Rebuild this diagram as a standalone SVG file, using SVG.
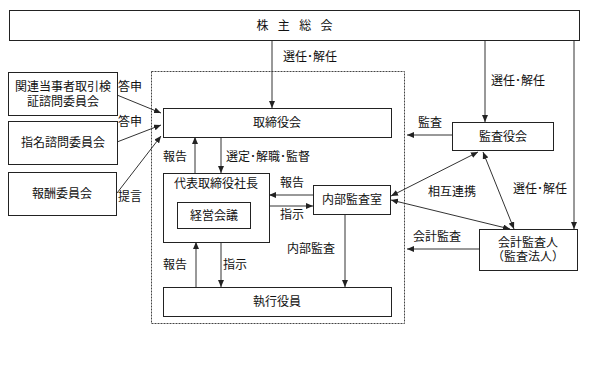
<svg xmlns="http://www.w3.org/2000/svg" width="600" height="366" viewBox="0 0 600 366">
<defs>
<marker id="ah" markerUnits="userSpaceOnUse" markerWidth="7" markerHeight="6" refX="7" refY="3" orient="auto-start-reverse">
<path d="M0,0 L7,3 L0,6 z" fill="#222"/>
</marker>
<style>
.box{fill:#fff;stroke:#222;stroke-width:1}
.t{font-family:"Liberation Sans","Noto Sans CJK JP",sans-serif;font-size:12px;fill:#111;text-anchor:middle}
.l{font-family:"Liberation Sans","Noto Sans CJK JP",sans-serif;font-size:12px;fill:#111}
.c{stroke:#333;stroke-width:1;fill:none}
.a{marker-end:url(#ah)}
.d{marker-start:url(#ah);marker-end:url(#ah)}
</style>
</defs>
<rect width="600" height="366" fill="#fff"/>
<rect x="151.5" y="71.5" width="253" height="252" fill="none" stroke="#444" stroke-width="1" stroke-dasharray="2,1"/>
<g id="connectors">
<line class="c a" x1="272" y1="40" x2="272" y2="108"/>
<line class="c a" x1="485" y1="40" x2="485" y2="122"/>
<polyline class="c a" points="574,40 574,229"/>
<line class="c a" x1="117" y1="95" x2="161" y2="113"/>
<line class="c a" x1="117" y1="142" x2="161" y2="125"/>
<line class="c a" x1="117" y1="193" x2="161" y2="136"/>
<line class="c a" x1="195" y1="173" x2="195" y2="137"/>
<line class="c a" x1="221" y1="137" x2="221" y2="173"/>
<line class="c a" x1="313" y1="195" x2="269" y2="195"/>
<line class="c a" x1="269" y1="206" x2="313" y2="206"/>
<line class="c a" x1="196" y1="287" x2="196" y2="242"/>
<line class="c a" x1="221" y1="242" x2="221" y2="287"/>
<line class="c a" x1="345" y1="214" x2="345" y2="287"/>
<line class="c a" x1="452" y1="135" x2="407" y2="135"/>
<line class="c a" x1="479" y1="249" x2="407" y2="249"/>
<line class="c d" x1="478" y1="152" x2="391" y2="196"/>
<line class="c d" x1="391" y1="200" x2="510" y2="229"/>
<line class="c d" x1="483" y1="152" x2="514" y2="229"/>
</g>
<g id="kabunushi"><rect class="box" x="9.5" y="10.5" width="570" height="30"/><text class="t" x="296" y="30" letter-spacing="3">株 主 総 会</text></g>
<g id="kanren"><rect class="box" x="8.5" y="72.5" width="109" height="43"/><text class="t" x="63" y="91">関連当事者取引検</text><text class="t" x="63" y="106">証諮問委員会</text></g>
<g id="shimei"><rect class="box" x="8.5" y="121.5" width="109" height="43"/><text class="t" x="63" y="147">指名諮問委員会</text></g>
<g id="houshu"><rect class="box" x="8.5" y="172.5" width="108" height="43"/><text class="t" x="62" y="198">報酬委員会</text></g>
<g id="torishimariyakukai"><rect class="box" x="163.5" y="108.5" width="228" height="29"/><text class="t" x="277" y="127">取締役会</text></g>
<g id="daihyo"><rect class="box" x="163.5" y="173.5" width="106" height="69"/><text class="t" x="216" y="188">代表取締役社長</text></g>
<g id="keiei"><rect class="box" x="177.5" y="202.5" width="73" height="26"/><text class="t" x="214" y="220">経営会議</text></g>
<g id="naibu"><rect class="box" x="313.5" y="185.5" width="77" height="29"/><text class="t" x="352" y="204">内部監査室</text></g>
<g id="shikko"><rect class="box" x="163.5" y="287.5" width="228" height="29"/><text class="t" x="277" y="306">執行役員</text></g>
<g id="kansayakukai"><rect class="box" x="452.5" y="122.5" width="101" height="28"/><text class="t" x="503" y="141">監査役会</text></g>
<g id="kaikei"><rect class="box" x="479.5" y="229.5" width="98" height="41"/><text class="t" x="528" y="247">会計監査人</text><text class="t" x="528" y="261">（監査法人）</text></g>
<g id="labels">
<text class="l" x="283" y="61">選任･解任</text>
<text class="l" x="491" y="85">選任･解任</text>
<text class="l" x="118" y="91">答申</text>
<text class="l" x="118" y="126">答申</text>
<text class="l" x="118" y="201">提言</text>
<text class="l" x="163" y="161">報告</text>
<text class="l" x="226" y="161">選定･解職･監督</text>
<text class="l" x="280" y="187">報告</text>
<text class="l" x="280" y="219">指示</text>
<text class="l" x="163" y="269">報告</text>
<text class="l" x="223" y="269">指示</text>
<text class="l" x="287" y="253">内部監査</text>
<text class="l" x="418" y="127">監査</text>
<text class="l" x="428" y="196">相互連携</text>
<text class="l" x="513" y="193">選任･解任</text>
<text class="l" x="413" y="241">会計監査</text>
</g>
</svg>
